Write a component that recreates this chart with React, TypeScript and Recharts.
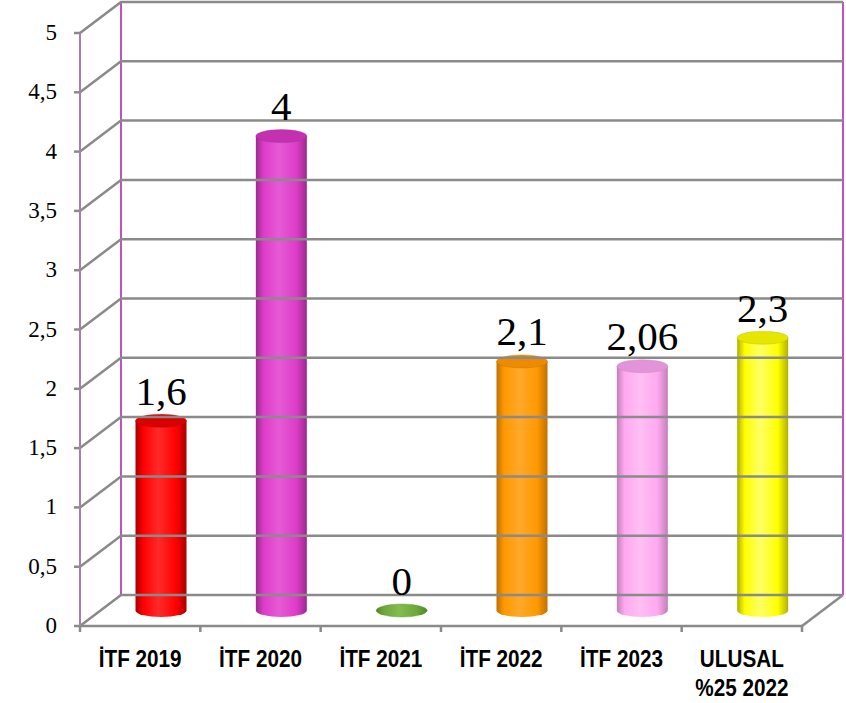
// App.tsx
import { BarChart, Bar, XAxis, YAxis, ReferenceLine, ReferenceArea, LabelList } from 'recharts';

const categories = ['İTF 2019', 'İTF 2020', 'İTF 2021', 'İTF 2022', 'İTF 2023', 'ULUSAL\n%25 2022'];
const values = [1.6, 4, 0, 2.1, 2.06, 2.3];
const yTicks = [0, 0.5, 1, 1.5, 2, 2.5, 3, 3.5, 4, 4.5, 5];

// dark edge, main, highlight, top cap
const barColors = [
  ['#a80000', '#ff0000', '#ff2a2a', '#d80000'],
  ['#9a2a8c', '#dc3cc8', '#e75ad6', '#c431b0'],
  ['#4f8a22', '#6da63a', '#84bd4e', '#6da63a'],
  ['#c07000', '#ff9900', '#ffa82a', '#ee8a00'],
  ['#c07fb8', '#ffa8f0', '#ffbff4', '#e394d8'],
  ['#b0b000', '#ffff00', '#ffff66', '#e6e600'],
];

const data = categories.map((name, i) => ({ name, value: values[i] }));

const W = 846;
const H = 703;
const MARGIN = { top: 33, right: 44, bottom: 0, left: 0 };
const Y_AXIS_W = 80;
const X_AXIS_H = 77;
const PLOT_W = W - MARGIN.left - MARGIN.right - Y_AXIS_W;
const DX = 41; // depth of the 3d box
const DY = -31;
const GRID = '#8a8a8a';
const WALL = '#c150c0';
const SERIF = "'Liberation Serif', 'DejaVu Serif', serif";
const SANS = "'Liberation Sans', Arial, sans-serif";

const fmt = (v: number) => String(v).replace('.', ',');

// grid line: y label + tick, side wall diagonal, back wall line
const GridLine = (props: any) => {
  const { x1, y1, x2, value } = props;
  return (
    <g>
      <line x1={x1 - 6} y1={y1} x2={x1} y2={y1} stroke={GRID} strokeWidth={2.5} />
      <text x={x1 - 23} y={y1 + 7} textAnchor="end" fontSize={23} fontFamily={SERIF} fill="#000">
        {fmt(value)}
      </text>
      <polyline
        points={`${x1},${y1} ${x1 + DX},${y1 + DY} ${x2 + DX},${y1 + DY}`}
        fill="none"
        stroke={GRID}
        strokeWidth={2.5}
      />
    </g>
  );
};

// back wall frame and floor edge
const Walls = (props: any) => {
  const { x, y, width, height } = props;
  const b = y + height;
  return (
    <g>
      <line x1={x + width} y1={b} x2={x + width + DX} y2={b + DY} stroke={GRID} strokeWidth={2.5} />
      <line x1={x + DX} y1={y + DY} x2={x + DX} y2={b + DY} stroke={WALL} strokeWidth={2} />
      <line x1={x + width + DX} y1={y + DY} x2={x + width + DX} y2={b + DY} stroke={WALL} strokeWidth={2} />
      <line x1={x} y1={y} x2={x + DX} y2={y + DY} stroke={WALL} strokeWidth={1.5} />
      <line x1={x} y1={b} x2={x + DX} y2={b + DY} stroke={WALL} strokeWidth={1.5} />
    </g>
  );
};

const Cylinder = (props: any) => {
  const { x, y, width, height, index } = props;
  const [dark, main, light, cap] = barColors[index % barColors.length];
  const left = x + DX / 2;
  const right = left + width;
  const top = y + DY / 2;
  const bottom = y + height + DY / 2;
  const rx = width / 2;
  const ry = 6.5;
  const id = `cyl-${index}`;
  return (
    <g>
      <defs>
        <linearGradient id={id} x1="0" y1="0" x2="1" y2="0">
          <stop offset="0" stopColor={dark} />
          <stop offset="0.15" stopColor={main} />
          <stop offset="0.45" stopColor={light} />
          <stop offset="0.8" stopColor={main} />
          <stop offset="1" stopColor={dark} />
        </linearGradient>
      </defs>
      {height > 0 && (
        <path
          d={`M${left},${top} L${left},${bottom} A${rx},${ry} 0 0 0 ${right},${bottom} L${right},${top} Z`}
          fill={`url(#${id})`}
        />
      )}
      <ellipse cx={left + rx} cy={top} rx={rx} ry={ry} fill={height > 0 ? cap : `url(#${id})`} stroke={dark} strokeOpacity={0.35} />
    </g>
  );
};

const ValueLabel = (props: any) => {
  const vb = props.viewBox || props;
  const { x, y, width } = vb;
  return (
    <text x={x + width / 2 + DX / 2} y={y + DY / 2 - 16} textAnchor="middle" fontSize={41} fontFamily={SERIF} fill="#000">
      {fmt(props.value)}
    </text>
  );
};

const XTick = (props: any) => {
  const { x, y, payload, index } = props;
  const band = PLOT_W / categories.length;
  const lines = String(payload.value).split('\n');
  return (
    <g>
      <line x1={x - band / 2} y1={y} x2={x - band / 2} y2={y + 6} stroke={GRID} strokeWidth={2.5} />
      {index === categories.length - 1 && (
        <line x1={x + band / 2} y1={y} x2={x + band / 2} y2={y + 6} stroke={GRID} strokeWidth={2.5} />
      )}
      {lines.map((t, i) => (
        <text
          key={i}
          x={0}
          y={0}
          transform={`translate(${x},${y + 41 + i * 29}) scale(0.9,1)`}
          textAnchor="middle"
          fontSize={23}
          fontWeight="bold"
          fontFamily={SANS}
          fill="#000"
        >
          {t}
        </text>
      ))}
    </g>
  );
};

export default function App() {
  return (
    <div style={{ position: 'absolute', left: 0, top: 0, width: W, height: H, background: '#fff' }}>
      <BarChart width={W} height={H} data={data} margin={MARGIN}>
        {yTicks.map((t) => (
          <ReferenceLine key={t} y={t} shape={(p: any) => <GridLine {...p} value={t} />} ifOverflow="visible" />
        ))}
        <ReferenceArea y1={0} y2={5} shape={Walls} ifOverflow="visible" />
        <XAxis
          dataKey="name"
          height={X_AXIS_H}
          interval={0}
          tickSize={0}
          tickMargin={0}
          tickLine={false}
          axisLine={{ stroke: GRID, strokeWidth: 2.5 }}
          tick={<XTick />}
        />
        <YAxis
          width={Y_AXIS_W}
          domain={[0, 5]}
          ticks={yTicks}
          tick={false}
          tickLine={false}
          axisLine={{ stroke: '#a77fab', strokeWidth: 2 }}
        />
        <Bar dataKey="value" barSize={51} shape={<Cylinder />} isAnimationActive={false}>
          <LabelList dataKey="value" content={<ValueLabel />} />
        </Bar>
      </BarChart>
    </div>
  );
}
